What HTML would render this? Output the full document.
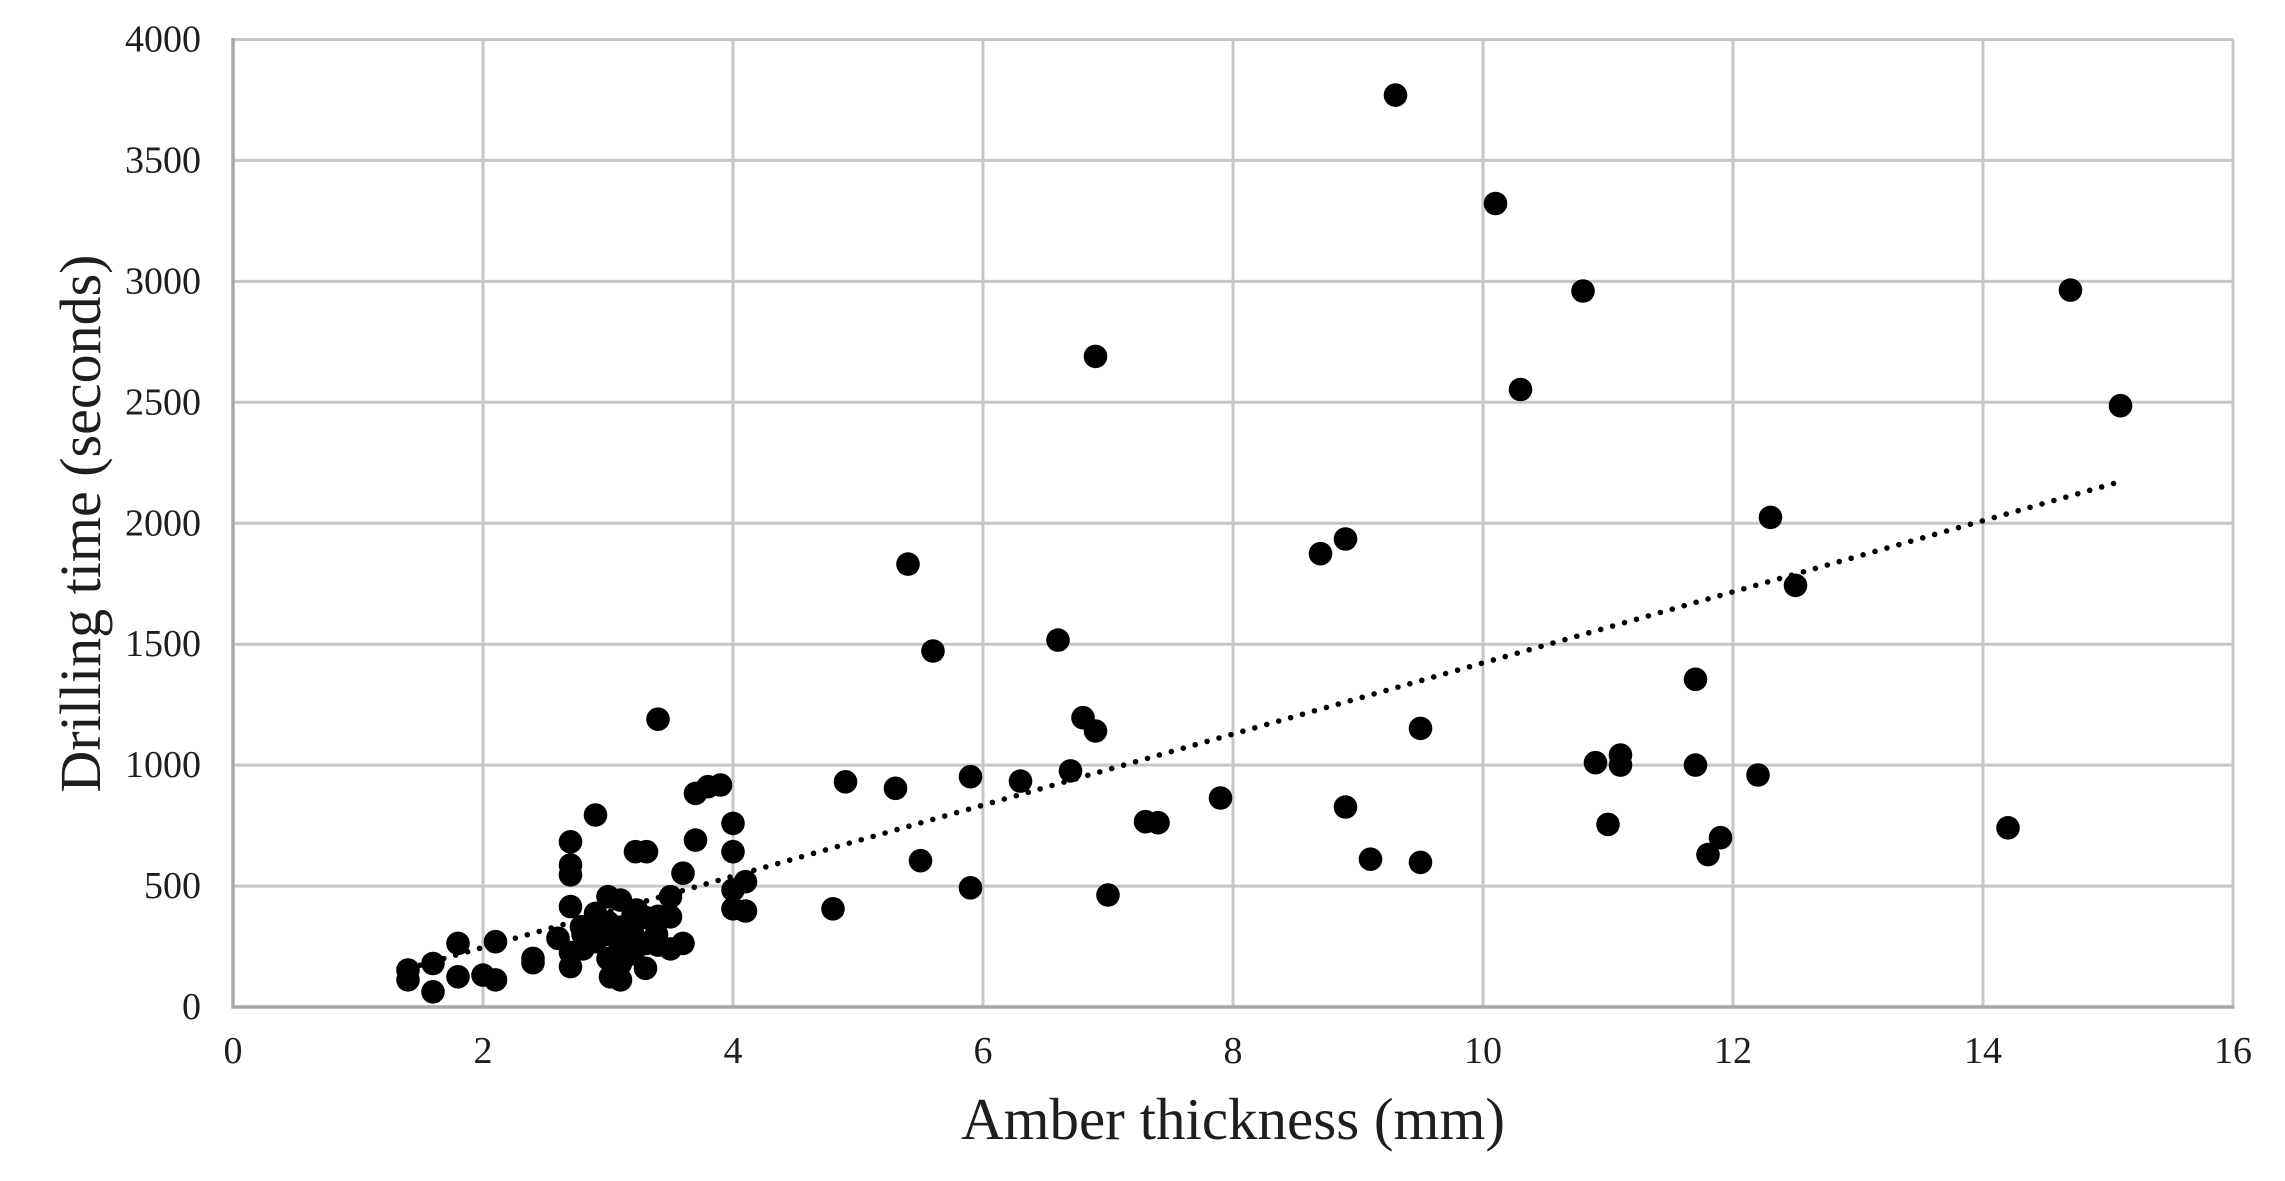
<!DOCTYPE html>
<html><head><meta charset="utf-8"><style>
html,body{margin:0;padding:0;background:#fff;}
svg{display:block;}
text{font-family:"Liberation Serif","Times New Roman",serif;fill:#1e1e1e;}
</style></head><body>
<svg width="2285" height="1181" viewBox="0 0 2285 1181" xmlns="http://www.w3.org/2000/svg">
<defs>
<marker id="d" viewBox="-13 -13 26 26" markerWidth="26" markerHeight="26" refX="0" refY="0" markerUnits="userSpaceOnUse" overflow="visible"><circle cx="0" cy="0" r="11.8" fill="#000"/></marker>
</defs>
<rect width="2285" height="1181" fill="#fff"/>
<path fill="none" stroke="#c6c6c6" stroke-width="3" d="M233 39.5H2233M233 160.4H2233M233 281.4H2233M233 402.3H2233M233 523.3H2233M233 644.2H2233M233 765.1H2233M233 886.1H2233M483 39.5V1007M733 39.5V1007M983 39.5V1007M1233 39.5V1007M1483 39.5V1007M1733 39.5V1007M1983 39.5V1007M2233 39.5V1007"/>
<path fill="none" stroke="#a8a8a8" stroke-width="3.5" d="M233 38V1008.5M231.5 1007H2234.5"/>
<g font-size="38" text-anchor="end">
<text x="201" y="51.5">4000</text>
<text x="201" y="172.4">3500</text>
<text x="201" y="293.4">3000</text>
<text x="201" y="414.3">2500</text>
<text x="201" y="535.3">2000</text>
<text x="201" y="656.2">1500</text>
<text x="201" y="777.1">1000</text>
<text x="201" y="898.1">500</text>
<text x="201" y="1019">0</text>
</g>
<g font-size="38" text-anchor="middle">
<text x="233" y="1063">0</text>
<text x="483" y="1063">2</text>
<text x="733" y="1063">4</text>
<text x="983" y="1063">6</text>
<text x="1233" y="1063">8</text>
<text x="1483" y="1063">10</text>
<text x="1733" y="1063">12</text>
<text x="1983" y="1063">14</text>
<text x="2233" y="1063">16</text>
</g>
<text x="1233" y="1139" font-size="59" text-anchor="middle">Amber thickness (mm)</text>
<text transform="translate(100,523.5) rotate(-90)" font-size="58" text-anchor="middle">Drilling time (seconds)</text>
<path fill="none" stroke="none" marker-start="url(#d)" marker-mid="url(#d)" marker-end="url(#d)" d="M1395.5 95.1L1495.5 203.5L1583 291L2070.5 290.1L1095.5 356.4L1520.5 389.5L2120.5 405.7L1770.5 517.4L1345.5 539L1320.5 553.7L908 564.1L1795.5 585.4L1058 640.1L933 651L1695.5 679.3L658 719.2L1083 717.7L1095.5 731L1420.5 728.4L1620.5 755L1620.5 765.1L1595.5 762.7L1695.5 765.1L1758 775L1070.5 770.9L970.5 776.7L1020.5 781.1L845.5 781.8L895.5 788.3L695.5 793.4L708 786.7L720.5 785L1220.5 798L1345.5 807L595.5 815L733 823.4L1145.5 821.7L1158 822.7L1608 824.4L2008 827.8L1720.5 837.7L695.5 840.1L570.5 841.8L635.5 851.7L646.5 851.7L733 851.7L1708 854.6L1370.5 859.2L920.5 860.7L1420.5 862.4L570.5 865L570.5 874.9L683 873.2L745.5 881.7L733 889.9L970.5 887.8L1108 895L608 896.7L620.5 900.1L670.5 896.7L570.5 906.6L733 908.8L833 908.8L745.5 911L595.5 913.4L636.5 910L633 915.1L658 916.3L670.5 916.8L645.5 917.5L608 922.3L620.5 927.2L583 934.4L595.5 932L608 934.4L558 938.3L495.5 941.7L458 943.4L683 943.4L658 945.1L670.5 948.9L583 948.9L620.5 946.5L570.5 952.6L633 953.8L533 958.4L533 962.7L433 963.5L608 958.6L570.5 966.6L620.5 963.5L645.5 968.3L408 970L483 975.1L458 976.8L610.5 976.8L495.5 979.9L620.5 979.9L408 979.9L433 991.8L581.5 926.7L610.5 926.7L623 940L630.5 953.1L646.5 943.4L656.5 934.2L595.5 941.7L633 934.4"/>
<line x1="408" y1="968.7" x2="2120.5" y2="481.6" stroke="#000" stroke-width="5.6" stroke-linecap="round" stroke-dasharray="0 12.4"/>
</svg>
</body></html>
